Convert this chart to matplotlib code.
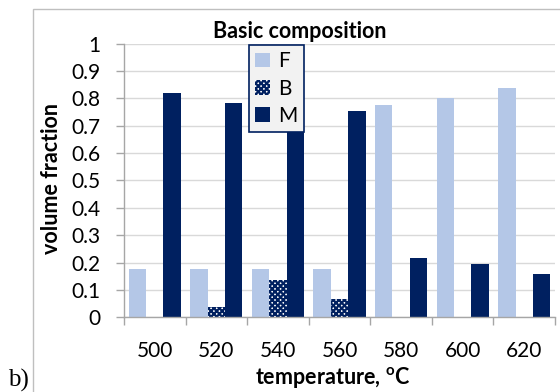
import matplotlib.pyplot as plt
import matplotlib.patches as mpatches
import numpy as np

temps = ['500', '520', '540', '560', '580', '600', '620']
frac_F = [0.175, 0.175, 0.175, 0.175, 0.777, 0.802, 0.838]
frac_B = [0.0, 0.036, 0.137, 0.067, 0.0, 0.0, 0.0]
frac_M = [0.820, 0.781, 0.683, 0.755, 0.217, 0.193, 0.158]

plt.rcParams['font.family'] = ['Lato', 'DejaVu Sans']
plt.rcParams['mathtext.fontset'] = 'custom'
plt.rcParams['mathtext.bf'] = 'Lato:bold'
plt.rcParams['hatch.linewidth'] = 1.6

light = '#B4C7E7'
navy = '#002060'
grey = '#A6A6A6'
fs = 15

fig = plt.figure(figsize=(5.6, 3.92), dpi=100)
ax = fig.add_axes([124/560, 1 - 317.3/392, 431/560, 273.8/392])

x = np.arange(len(temps))
w = 0.283
ax.bar(x - w, frac_F, w, color=light, label='F')
ax.bar(x, frac_B, w, color='white', edgecolor=navy, hatch='xxxxxx', linewidth=0, label='B')
ax.bar(x + w, frac_M, w, color=navy, label='M')

ax.set_xlim(-0.5, len(temps) - 0.5)
ax.set_ylim(0, 1)
ax.set_yticks(np.arange(0, 1.01, 0.1))
ax.set_yticklabels(['0', '0.1', '0.2', '0.3', '0.4', '0.5', '0.6', '0.7', '0.8', '0.9', '1'])
ax.set_xticks(x)
ax.set_xticklabels(temps)
ax.set_xticks(np.arange(-0.5, len(temps)), minor=True)
ax.tick_params(axis='x', which='major', length=0, pad=17, labelsize=fs)
ax.tick_params(axis='x', which='minor', length=6, color=grey, width=1)
ax.tick_params(axis='y', length=6, color=grey, width=1, pad=11, labelsize=fs)

ax.grid(axis='y', color='#D9D9D9', linewidth=1)
ax.set_axisbelow(True)
for s in ['top', 'right']:
    ax.spines[s].set_visible(False)
for s in ['left', 'bottom']:
    ax.spines[s].set_color(grey)
    ax.spines[s].set_linewidth(1)

leg = ax.legend(loc='upper left', bbox_to_anchor=(249/560, 1 - 45/392),
                bbox_transform=fig.transFigure, fontsize=fs, frameon=True,
                fancybox=False, handlelength=0.7, handleheight=0.7,
                handletextpad=0.4, borderpad=0.3, labelspacing=0.35,
                borderaxespad=0)
leg.get_frame().set_edgecolor(navy)
leg.get_frame().set_facecolor('#F2F2F2')
leg.get_frame().set_alpha(1)
leg.get_frame().set_linewidth(1.2)

fig.text(300/560, 1 - 32/392, 'Basic composition', ha='center', va='center',
         fontsize=fs + 0.5, fontweight='bold')
fig.text(52/560, 1 - 179/392, 'volume fraction', rotation=90, ha='center',
         va='center', fontsize=fs + 0.5, fontweight='bold')
fig.text(333/560, 1 - 377/392, r'temperature, $\mathbf{^{o}}$C', ha='center',
         va='center', fontsize=fs + 0.5, fontweight='bold')
fig.text(8/560, 1 - 380/392, 'b)', ha='left', va='center', fontsize=18,
         family='Liberation Serif')

# chart frame
fig.add_artist(mpatches.Rectangle((33/560, -0.1), 1, 1 - 9/392 + 0.1,
                                  transform=fig.transFigure, fill=False,
                                  edgecolor='#BFBFBF', linewidth=1))

fig.savefig('out.png', dpi=100)
